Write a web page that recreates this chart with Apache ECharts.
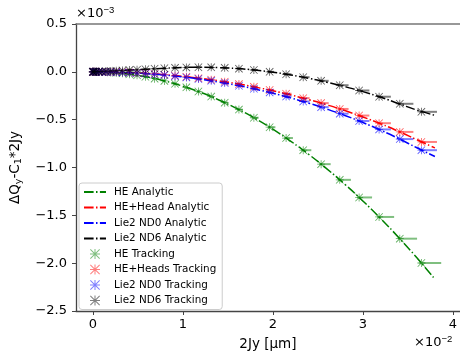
<!DOCTYPE html>
<html>
<head>
<meta charset="utf-8">
<script src="https://cdn.jsdelivr.net/npm/echarts@6/dist/echarts.min.js"></script>
<style>
html, body { margin: 0; padding: 0; background: #fff; }
#chart { width: 460px; height: 356px; }
</style>
</head>
<body>
<div id="chart"></div>
<script>
// x in units of 1e-2, y in units of 1e-3
var trackX = [0, 0.004, 0.016, 0.037, 0.065, 0.101, 0.146, 0.199, 0.260, 0.329, 0.406, 0.491, 0.584, 0.686, 0.795, 0.913,
    1.039, 1.173, 1.315, 1.465, 1.623, 1.789, 1.964, 2.147, 2.337, 2.536, 2.743, 2.958, 3.180, 3.410, 3.650];
var heTrack = [0, 0, 0, 0, -0.001, -0.002, -0.003, -0.006, -0.010, -0.016, -0.025, -0.036, -0.051, -0.071, -0.095, -0.125,
    -0.162, -0.206, -0.259, -0.322, -0.395, -0.480, -0.579, -0.692, -0.819, -0.965, -1.129, -1.313, -1.517, -1.744, -1.998];
var headTrack = [0, 0, 0, 0, -0.0002, -0.0005, -0.001, -0.002, -0.003, -0.005, -0.008, -0.011, -0.016, -0.022, -0.030, -0.040,
    -0.051, -0.066, -0.083, -0.104, -0.128, -0.157, -0.190, -0.229, -0.275, -0.327, -0.388, -0.457, -0.537, -0.628, -0.733];
var nd0Track = [0, 0, 0, -0.0001, -0.0002, -0.0005, -0.001, -0.002, -0.004, -0.006, -0.009, -0.013, -0.018, -0.025, -0.034, -0.045,
    -0.058, -0.075, -0.094, -0.118, -0.145, -0.177, -0.215, -0.259, -0.310, -0.369, -0.437, -0.514, -0.602, -0.703, -0.819];
var nd6Track = [0, 0, 0, 0.001, 0.002, 0.004, 0.006, 0.008, 0.011, 0.014, 0.018, 0.022, 0.027, 0.032, 0.037, 0.042,
    0.046, 0.048, 0.047, 0.042, 0.033, 0.019, 0.000, -0.025, -0.056, -0.094, -0.140, -0.195, -0.260, -0.334, -0.418];
// horizontal error (to the right)
var heErr = [0, 0, 0, 0, 0, 0, 0, 0.001, 0.001, 0.002, 0.003, 0.004, 0.006, 0.008, 0.010, 0.014,
    0.018, 0.023, 0.029, 0.035, 0.043, 0.053, 0.064, 0.076, 0.090, 0.106, 0.124, 0.144, 0.167, 0.192, 0.220];
var liteErr = [0, 0, 0, 0, 0, 0, 0, 0.001, 0.001, 0.001, 0.002, 0.003, 0.004, 0.006, 0.008, 0.011,
    0.014, 0.018, 0.022, 0.028, 0.034, 0.042, 0.050, 0.060, 0.071, 0.084, 0.098, 0.114, 0.131, 0.151, 0.173];

var anaX = [0, 0.2, 0.4, 0.6, 0.8, 1.0, 1.2, 1.4, 1.6, 1.8, 2.0, 2.2, 2.4, 2.6, 2.8, 3.0, 3.2, 3.4, 3.6, 3.8];
var heAna = [0, -0.006, -0.024, -0.054, -0.096, -0.150, -0.216, -0.294, -0.384, -0.486, -0.600, -0.726, -0.864, -1.014,
    -1.176, -1.350, -1.536, -1.734, -1.944, -2.166];
var headAna = [0, -0.002, -0.0075, -0.017, -0.030, -0.048, -0.069, -0.094, -0.124, -0.159, -0.198, -0.242, -0.291, -0.345,
    -0.405, -0.472, -0.544, -0.624, -0.710, -0.795];
var nd0Ana = [0, -0.002, -0.009, -0.019, -0.034, -0.054, -0.078, -0.107, -0.141, -0.180, -0.224, -0.273, -0.328, -0.389,
    -0.456, -0.530, -0.611, -0.699, -0.794, -0.885];
var nd6Ana = [0, 0.008, 0.018, 0.028, 0.037, 0.045, 0.048, 0.044, 0.035, 0.018, -0.004, -0.033, -0.068, -0.109,
    -0.155, -0.207, -0.266, -0.333, -0.400, -0.455];

var xTicks = [0, 1, 2, 3, 4];

var anaNames = ['HE Analytic', 'HE+Head Analytic', 'Lie2 ND0 Analytic', 'Lie2 ND6 Analytic'];
var trkNames = ['HE Tracking', 'HE+Heads Tracking', 'Lie2 ND0 Tracking', 'Lie2 ND6 Tracking'];
var colors = ['#008000', '#ff0000', '#0000ff', '#000000'];

var star = 'path://M0,9L20,9L20,11L0,11Z M9,0L11,0L11,20L9,20Z M1.4,0L20,18.6L18.6,20L0,1.4Z M18.6,0L20,1.4L1.4,20L0,18.6Z';
var dashDot = [9.6, 2.4, 1.5, 2.4];

function pairs(xs, ys) {
    var out = [];
    for (var i = 0; i < xs.length; i++) out.push([xs[i], ys[i]]);
    return out;
}
function triples(xs, ys, es) {
    var out = [];
    for (var i = 0; i < xs.length; i++) out.push([xs[i], ys[i], es[i]]);
    return out;
}

function errBar(color) {
    return function (params, api) {
        var a = api.coord([api.value(0), api.value(1)]);
        var b = api.coord([api.value(0) + api.value(2), api.value(1)]);
        return {
            type: 'line',
            shape: { x1: a[0] - 2, y1: a[1], x2: b[0], y2: b[1] },
            style: { stroke: color, lineWidth: 2, opacity: 0.5 }
        };
    };
}

var anaData = [heAna, headAna, nd0Ana, nd6Ana];
var trkData = [heTrack, headTrack, nd0Track, nd6Track];
var errData = [heErr, liteErr, liteErr, liteErr];

var series = [];
var legendData = [];
for (var i = 0; i < 4; i++) {
    series.push({
        name: anaNames[i],
        type: 'line',
        data: pairs(anaX, anaData[i]),
        showSymbol: false,
        smooth: true,
        z: 2,
        lineStyle: { color: colors[i], width: 1.5, type: dashDot },
        itemStyle: { color: colors[i] }
    });
    legendData.push({ name: anaNames[i], itemStyle: { opacity: 0 } });
}
for (var j = 0; j < 4; j++) {
    series.push({
        name: trkNames[j],
        type: 'scatter',
        data: pairs(trackX, trkData[j]),
        symbol: star,
        symbolSize: 8,
        z: 4,
        itemStyle: { color: colors[j], opacity: 0.65 }
    });
    legendData.push({ name: trkNames[j], itemStyle: { opacity: 0.5 } });
}
for (var k = 0; k < 4; k++) {
    series.push({
        name: 'err' + k,
        type: 'custom',
        data: triples(trackX, trkData[k], errData[k]),
        renderItem: errBar(colors[k]),
        z: 3,
        silent: true
    });
}

var option = {
    backgroundColor: '#fff',
    animation: false,
    textStyle: { fontFamily: 'DejaVu Sans' },
    grid: { left: 74, top: 24, right: -2, bottom: 41 },
    legend: {
        data: legendData,
        orient: 'vertical',
        left: 79,
        top: 183,
        padding: [4, 6, 4, 4],
        itemWidth: 22,
        itemHeight: 10,
        itemGap: 5.5,
        borderColor: '#cccccc',
        borderWidth: 1,
        borderRadius: 3,
        backgroundColor: 'rgba(255,255,255,0.8)',
        textStyle: { fontSize: 10.4, color: '#000', padding: [0, 0, 0, 3], fontFamily: 'DejaVu Sans' }
    },
    xAxis: [{
        type: 'value',
        min: -0.187,
        max: 4.077,
        name: '2Jy [μm]',
        nameLocation: 'middle',
        nameGap: 26,
        nameTextStyle: { fontSize: 13.5, color: '#000' },
        axisLine: { onZero: false, lineStyle: { color: '#444', width: 1.3 } },
        axisTick: { length: 4, customValues: xTicks, lineStyle: { color: '#444' } },
        axisLabel: { customValues: xTicks, fontSize: 13, color: '#000', margin: 7 },
        splitLine: { show: false }
    }, {
        type: 'value',
        position: 'top',
        min: -0.187,
        max: 4.077,
        axisLine: { show: true, onZero: false, lineStyle: { color: '#777', width: 1.5 } },
        axisTick: { show: false },
        axisLabel: { show: false },
        splitLine: { show: false }
    }],
    yAxis: {
        type: 'value',
        min: -2.5,
        max: 0.5,
        interval: 0.5,
        name: 'ΔQ{sub|y}-C{sub|1}*2Jy',
        nameLocation: 'middle',
        nameGap: 52,
        nameTextStyle: {
            fontSize: 13.5, color: '#000',
            rich: { sub: { fontSize: 9.5, color: '#000', padding: [8, 0, 0, 0] } }
        },
        axisLine: { show: true, onZero: false, lineStyle: { color: '#444', width: 1.3 } },
        axisTick: { show: true, length: 4, lineStyle: { color: '#444' } },
        axisLabel: {
            fontSize: 13, color: '#000', margin: 9,
            formatter: function (v) { return (v < 0 ? '\u2212' : '') + Math.abs(v).toFixed(1); }
        },
        splitLine: { show: false }
    },
    graphic: [{
        type: 'text',
        left: 76,
        top: 5,
        style: {
            text: '×10{sup|\u22123}',
            fontSize: 13, fill: '#000', fontFamily: 'DejaVu Sans',
            rich: { sup: { fontSize: 9.5, padding: [0, 0, 8, 0] } }
        }
    }, {
        type: 'text',
        left: 414,
        top: 334,
        style: {
            text: '×10{sup|\u22122}',
            fontSize: 13, fill: '#000', fontFamily: 'DejaVu Sans',
            rich: { sup: { fontSize: 9.5, padding: [0, 0, 8, 0] } }
        }
    }],
    series: series
};

var myChart = echarts.init(document.getElementById('chart'));
myChart.setOption(option);
</script>
</body>
</html>
